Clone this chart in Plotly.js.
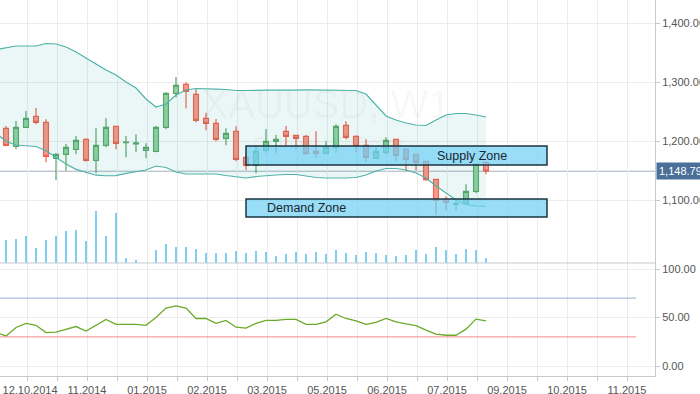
<!DOCTYPE html>
<html><head><meta charset="utf-8">
<script src="https://cdn.plot.ly/plotly-3.0.1.min.js"></script>
<style>html,body{margin:0;padding:0;background:#fff}#chart{width:700px;height:394px}</style>
</head><body><div id="chart"></div>
<script>
// weekly candle positions (week index)
const weeks = [0,1,2,3,4,5,6,7,8,9,10,11,12,13,14,15,16,17,18,19,20,21,22,23,24,25,26,27,28,29,30,31,32,33,34,35,36,37,38,39,40,41,42,43,44,45,46,47,48];
const openP  = [1221.5,1191.0,1223.2,1241.9,1231.7,1170.7,1177.5,1185.9,1202.9,1167.3,1192.7,1224.9,1197.0,1195.0,1184.2,1182.5,1223.2,1280.9,1296.1,1279.2,1238.5,1230.0,1204.6,1216.4,1172.4,1158.8,1184.2,1199.5,1216.4,1209.7,1208.0,1182.5,1179.1,1189.3,1226.6,1208.0,1192.7,1170.7,1180.8,1202.9,1185.9,1177.5,1165.6,1135.1,1101.2,1092.5,1093.7,1114.7,1163.9];
const highP  = [1225.4,1233.9,1250.9,1255.9,1236.8,1179.1,1194.9,1208.5,1204.6,1221.5,1238.5,1226.0,1208.5,1211.4,1196.1,1225.4,1282.5,1308.5,1299.5,1287.6,1248.0,1237.3,1221.5,1224.9,1175.0,1191.5,1220.3,1210.2,1225.4,1209.7,1210.2,1216.4,1199.5,1228.3,1233.4,1209.7,1202.9,1189.3,1206.3,1203.0,1188.0,1177.5,1166.0,1136.0,1106.3,1099.5,1126.6,1162.2,1164.0];
const lowP   = [1191.0,1185.9,1222.0,1228.3,1163.9,1133.4,1149.7,1177.5,1165.0,1145.3,1189.3,1185.9,1172.4,1180.8,1170.7,1180.8,1219.8,1274.0,1255.4,1231.7,1218.1,1199.5,1192.7,1165.6,1150.8,1145.3,1180.2,1180.2,1193.2,1185.9,1176.8,1171.7,1179.0,1180.2,1202.9,1180.8,1165.0,1170.0,1177.5,1165.6,1148.6,1150.3,1132.7,1074.0,1082.5,1082.5,1092.5,1111.3,1143.6];
const closeP = [1192.7,1223.2,1238.5,1231.7,1174.1,1177.5,1189.3,1201.2,1167.3,1192.7,1223.2,1196.1,1198.0,1197.0,1189.3,1223.2,1280.9,1294.4,1284.2,1235.1,1230.0,1202.9,1213.1,1169.0,1158.8,1183.0,1199.5,1202.9,1208.0,1204.6,1178.5,1179.1,1189.3,1224.9,1206.3,1191.0,1172.4,1182.5,1201.2,1175.8,1169.0,1163.9,1134.4,1099.5,1096.1,1094.3,1114.7,1160.5,1148.79];
const volume = [227,237,270,150,227,270,317,327,217,517,267,497,47,27,0,127,187,157,157,137,100,100,100,117,100,117,107,70,90,107,90,107,90,127,100,77,107,100,77,67,77,127,90,157,127,90,137,127,47];

// Bollinger bands (start one week before the first visible candle)
const bbWeeks = [-1,0,1,2,3,4,5,6,7,8,9,10,11,12,13,14,15,16,17,18,19,20,21,22,23,24,25,26,27,28,29,30,31,32,33,34,35,36,37,38,39,40,41,42,43,44,45,46,47,48];
const bbUpper = [1355.1,1357.6,1361.0,1361.0,1361.0,1365.3,1364.4,1359.3,1350.9,1340.7,1330.5,1320.3,1311.9,1300.0,1289.8,1271.2,1257.6,1262.7,1278.0,1286.4,1289.0,1289.0,1288.1,1287.3,1285.6,1285.6,1286.4,1286.2,1286.4,1286.0,1286.4,1286.5,1286.2,1286.4,1286.0,1286.4,1285.6,1279.7,1261.0,1242.4,1235.6,1230.5,1227.1,1226.3,1235.6,1244.1,1246.6,1246.6,1244.1,1240.7];
const bbLower = [1213.6,1199.2,1193.2,1191.5,1190.7,1183.5,1172.9,1161.0,1152.0,1146.5,1142.0,1141.1,1141.4,1145.0,1148.0,1150.8,1157.6,1155.1,1147.5,1144.1,1144.1,1144.1,1144.1,1141.5,1139.0,1137.3,1139.8,1141.5,1142.4,1143.2,1143.2,1140.7,1138.1,1137.3,1136.8,1137.3,1138.1,1142.4,1149.2,1153.4,1153.4,1150.8,1145.8,1137.3,1123.7,1111.9,1100.0,1092.4,1089.8,1089.0];

// Oscillator
const rsi = [34.5,31,39.7,44,42,34.5,35,38,40.7,36,42,48,43,43,43,42,50,59.7,62,59.7,49,49,44,47,40,39,44,47,47,48,48,43,43,45.5,53.4,49,46.5,43,45,49,45.5,43.4,41.7,37,32.8,31.7,31.7,38,48.3,46.5];
const rsiLevels = [70, 30];

// axis labels
const tickPos = [2.1,5.1,8.1,11.1,14.1,17.1,20.1,23.1,26.1,29.1,32.1,35.1,38.1,41.1,44.1,47.1,50.1,53.1,56.1,59.1,62.1];
const tickText = ['\u00a0\u00a012.10.2014','','11.2014','','01.2015','','02.2015','','03.2015','','05.2015','','06.2015','','07.2015','','09.2015','','10.2015','','11.2015'];

// watermark
const symbolText = ['XAUUSD, W1', 'Gold vs US Dollar'];

// zones
const zoneNames = ['Supply Zone','Demand Zone'];
const zoneTop = [1191.5, 1101.7];
const zoneBottom = [1159.3, 1071.2];
const zoneStart = [24, 24];
const zoneEnd = [54.1, 54.1];
const zoneLabelX = [46.6, 30];

const lastClose = closeP[closeP.length-1];
const fontFam = 'Liberation Sans, Arial, sans-serif';
const gridC = '#ececec', axisC = '#c5cad0', tickC = '#555';

const traces = [
  {type:'scatter', mode:'text', x:[32], y:[1255.5], text:[symbolText[0]], textposition:'middle center',
   textfont:{family:fontFam, size:40, color:'rgba(0,40,40,0.045)'}, hoverinfo:'skip', xaxis:'x', yaxis:'y', cliponaxis:false},
  {type:'scatter', mode:'text', x:[32.3], y:[1193], text:[symbolText[1]], textposition:'middle center',
   textfont:{family:fontFam, size:19, color:'rgba(0,40,40,0.05)'}, hoverinfo:'skip', xaxis:'x', yaxis:'y', cliponaxis:false},
  {type:'scatter', mode:'lines', x:bbWeeks, y:bbLower, line:{color:'#4fb3aa', width:1.2}, hoverinfo:'skip', xaxis:'x', yaxis:'y'},
  {type:'scatter', mode:'lines', x:bbWeeks, y:bbUpper, fill:'tonexty', fillcolor:'rgba(0,150,136,0.08)', line:{color:'#4fb3aa', width:1.2}, hoverinfo:'skip', xaxis:'x', yaxis:'y'},
  {type:'bar', x:weeks, y:volume, width:0.12, marker:{color:'#7fcff5', line:{width:0}}, xaxis:'x', yaxis:'y3'},
  {type:'candlestick', x:weeks, open:openP, high:highP, low:lowP, close:closeP, whiskerwidth:0,
   increasing:{line:{color:'#5ba66a', width:1.2}, fillcolor:'#93d3a2'},
   decreasing:{line:{color:'#f0624f', width:1.2}, fillcolor:'#f99a8a'}, xaxis:'x', yaxis:'y'},
  {type:'scatter', mode:'lines', x:bbWeeks, y:rsi, line:{color:'#6aaa2a', width:1.3}, xaxis:'x', yaxis:'y2'}
];

const shapes = [
  {type:'line', xref:'paper', x0:0, x1:1, yref:'paper', y0:0.3005, y1:0.3005, line:{color:axisC, width:1}},
  {type:'line', xref:'paper', x0:0, x1:1, yref:'y', y0:lastClose, y1:lastClose, line:{color:'#a3b1c0', width:1}, layer:'below'}
];
rsiLevels.forEach((v,i)=>shapes.push({type:'line', xref:'x', x0:-0.6, x1:63, yref:'y2', y0:v, y1:v, line:{color: i===0 ? '#98afd4' : '#f08a8a', width:1}}));
zoneNames.forEach((n,i)=>shapes.push({type:'rect', xref:'x', x0:zoneStart[i], x1:zoneEnd[i], yref:'y', y0:zoneBottom[i], y1:zoneTop[i], fillcolor:'rgba(113,208,244,0.72)', line:{color:'#1d3440', width:1.5}, layer:'above'}));

const annotations = [
  {xref:'paper', x:1, xanchor:'left', yref:'y', y:lastClose, text:lastClose.toLocaleString('en-US',{minimumFractionDigits:2}), showarrow:false, bgcolor:'#4a6f98', font:{family:fontFam, size:11, color:'#fff'}, borderpad:2, xshift:1}
];
zoneNames.forEach((n,i)=>annotations.push({xref:'x', yref:'y', x:zoneLabelX[i], y:(zoneTop[i]+zoneBottom[i])/2, text:n, showarrow:false, font:{family:fontFam, size:12.5, color:'#1a2630'}}));

const layout = {
  width:700, height:394, margin:{l:0, r:45, t:0, b:18},
  paper_bgcolor:'#fff', plot_bgcolor:'#fff', showlegend:false, bargap:0,
  font:{family:fontFam, size:11, color:tickC},
  xaxis:{domain:[0,1], range:[-0.6,64.9], anchor:'y2', tickmode:'array', tickvals:tickPos, ticktext:tickText,
         showgrid:true, gridcolor:gridC, ticks:'outside', ticklen:4, tickcolor:axisC, showline:true, linecolor:axisC,
         zeroline:false, rangeslider:{visible:false}, tickfont:{size:11, color:tickC}, ticklabeloverflow:'allow', fixedrange:true},
  yaxis:{domain:[0.3005,1], range:[993.2,1439], side:'right', anchor:'x', tickvals:[1100,1200,1300,1400], tickformat:',.2f',
         showgrid:true, gridcolor:gridC, showline:true, linecolor:axisC, ticks:'outside', ticklen:4, tickcolor:axisC, zeroline:false,
         tickfont:{size:11, color:tickC}},
  yaxis2:{domain:[0,0.3005], range:[-10.3,106.2], side:'right', anchor:'x', tickvals:[0,50,100], tickformat:'.2f',
         showgrid:true, gridcolor:gridC, showline:true, linecolor:axisC, ticks:'outside', ticklen:4, tickcolor:axisC, zeroline:false,
         tickfont:{size:11, color:tickC}},
  yaxis3:{overlaying:'y', range:[0,2630], visible:false, anchor:'x'},
  shapes, annotations
};
Plotly.newPlot('chart', traces, layout, {staticPlot:true, displayModeBar:false});
</script></body></html>
